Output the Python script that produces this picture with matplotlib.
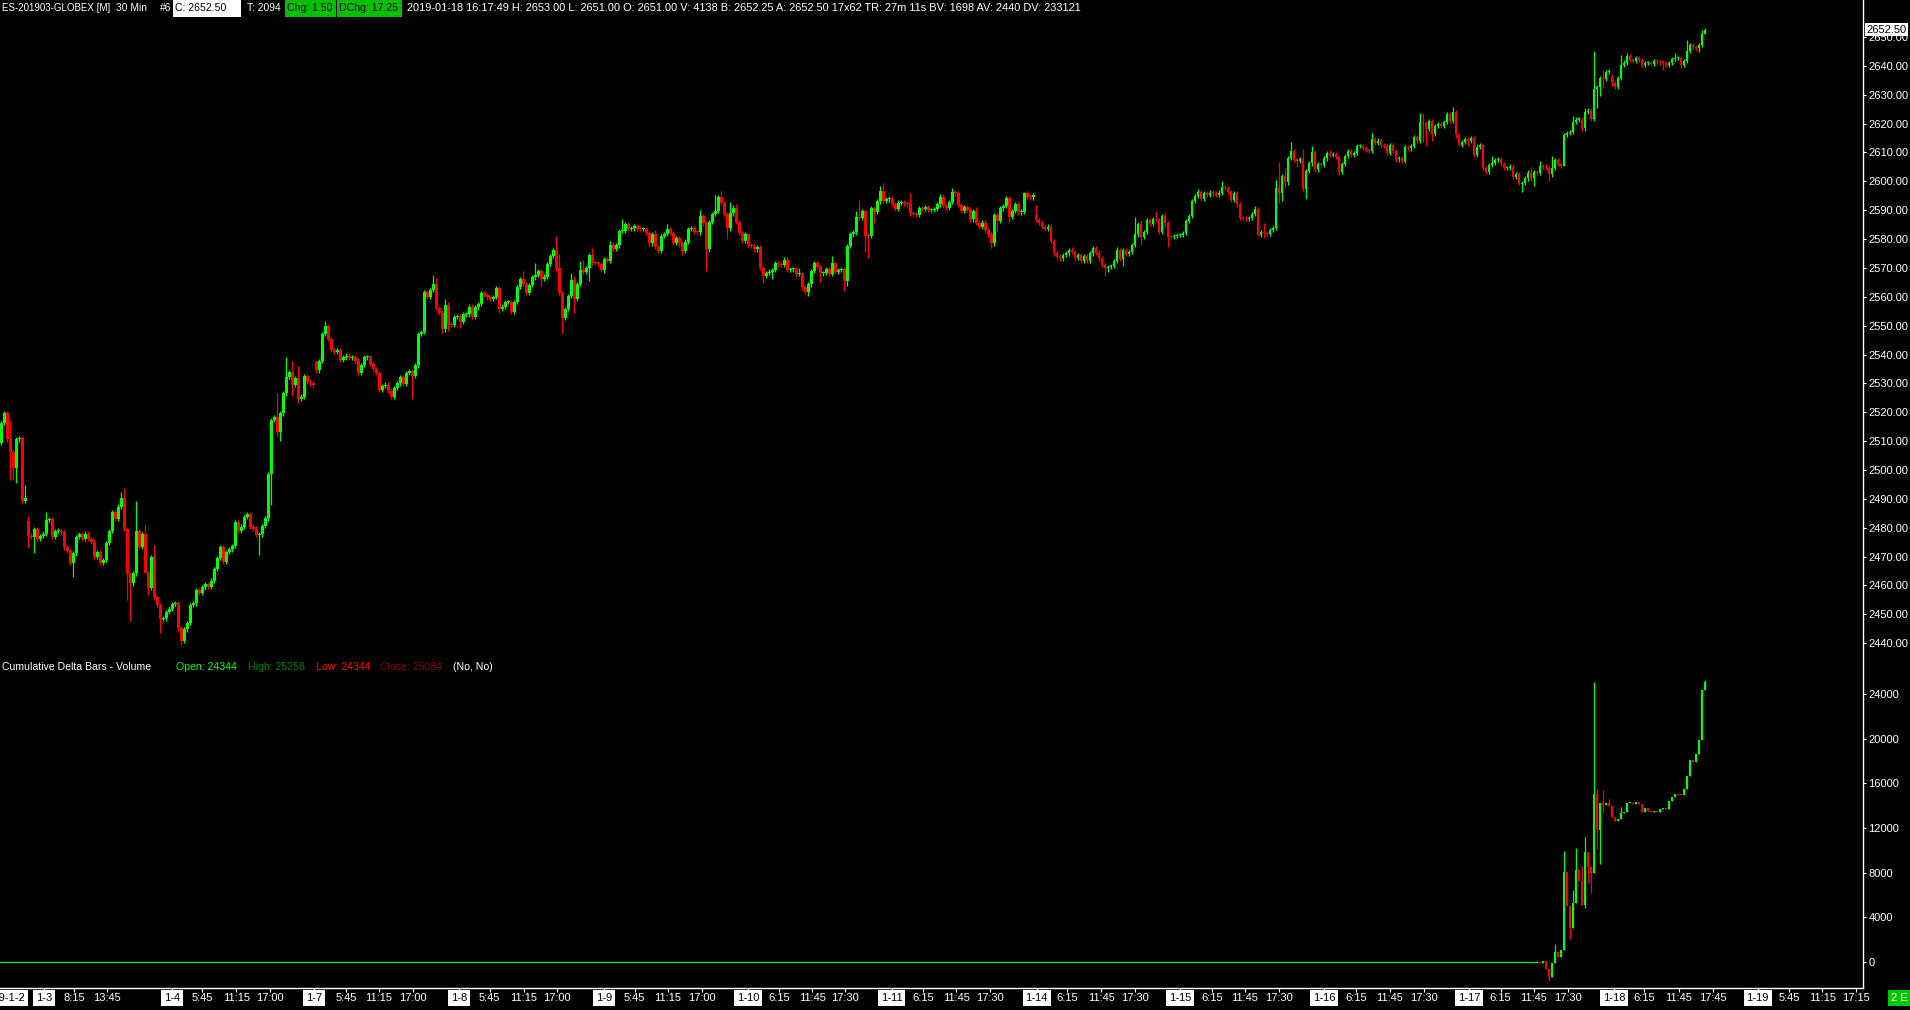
import numpy as np
import matplotlib
matplotlib.use("Agg")
import matplotlib.pyplot as plt
from matplotlib.lines import Line2D
from matplotlib.patches import Rectangle

plt.rcParams['font.family'] = ['Liberation Sans', 'DejaVu Sans']

# ES 30 min closes, one per bar
closes = [
    2516.2, 2519.6, 2510.6, 2506.3, 2500.8, 2510.6, 2511.0, 2489.3, 2490.2, 2477.3,
    2476.9, 2479.4, 2476.0, 2477.1, 2478.0, 2482.7, 2483.0, 2476.9, 2478.9, 2479.0,
    2478.5, 2473.2, 2472.0, 2467.7, 2471.1, 2476.7, 2477.8, 2476.0, 2478.0, 2476.0,
    2475.2, 2470.0, 2471.5, 2467.7, 2468.8, 2474.6, 2478.9, 2485.3, 2483.1, 2487.3,
    2490.2, 2479.6, 2463.9, 2460.7, 2464.2, 2478.9, 2473.4, 2477.7, 2464.2, 2459.2,
    2469.7, 2456.1, 2453.1, 2448.3, 2448.6, 2450.8, 2452.0, 2453.5, 2453.8, 2445.1,
    2440.9, 2444.8, 2446.9, 2453.2, 2453.8, 2458.4, 2457.5, 2459.3, 2460.5, 2459.6,
    2461.7, 2465.6, 2469.4, 2473.2, 2468.2, 2471.7, 2472.5, 2473.7, 2482.1, 2479.0,
    2480.4, 2483.8, 2484.6, 2480.4, 2479.7, 2477.5, 2477.7, 2480.7, 2483.2, 2498.6,
    2517.3, 2518.2, 2513.3, 2519.6, 2526.5, 2532.1, 2533.9, 2529.6, 2531.7, 2524.7,
    2525.4, 2532.6, 2530.6, 2530.0, 2529.3, 2534.5, 2537.8, 2547.1, 2549.9, 2545.3,
    2541.6, 2541.0, 2541.6, 2538.1, 2539.0, 2539.6, 2538.7, 2539.0, 2537.9, 2533.5,
    2536.4, 2539.0, 2539.2, 2536.6, 2535.0, 2533.5, 2527.7, 2529.2, 2529.6, 2527.5,
    2525.4, 2528.3, 2530.0, 2532.1, 2529.8, 2533.7, 2534.4, 2532.7, 2536.2, 2547.1,
    2547.9, 2561.5, 2560.0, 2562.3, 2564.4, 2556.0, 2554.5, 2548.7, 2557.0, 2550.4,
    2550.2, 2552.9, 2553.4, 2551.4, 2553.9, 2553.9, 2556.6, 2553.1, 2556.3, 2557.5,
    2561.2, 2560.6, 2559.8, 2559.4, 2560.0, 2562.9, 2555.8, 2556.6, 2558.1, 2558.3,
    2554.8, 2558.3, 2563.3, 2566.1, 2564.4, 2561.2, 2564.1, 2566.7, 2567.5, 2568.9,
    2566.3, 2567.0, 2571.3, 2574.1, 2576.2, 2569.8, 2561.4, 2552.5, 2555.8, 2560.3,
    2565.8, 2559.4, 2564.4, 2569.3, 2568.7, 2569.8, 2574.3, 2571.8, 2571.6, 2571.3,
    2569.3, 2573.0, 2572.4, 2578.1, 2576.6, 2577.8, 2582.8, 2582.8, 2585.2, 2583.6,
    2583.7, 2584.6, 2583.6, 2583.4, 2583.5, 2582.2, 2578.5, 2581.6, 2577.3, 2576.0,
    2581.0, 2581.7, 2583.4, 2582.0, 2578.7, 2580.2, 2578.5, 2576.0, 2579.1, 2583.4,
    2583.8, 2582.5, 2582.3, 2588.0, 2585.4, 2576.4, 2585.9, 2588.7, 2589.7, 2594.4,
    2592.4, 2588.7, 2583.7, 2588.9, 2590.9, 2585.9, 2582.0, 2579.4, 2581.6, 2577.9,
    2577.6, 2576.4, 2577.1, 2569.9, 2567.3, 2568.3, 2568.7, 2569.3, 2571.6, 2571.2,
    2571.0, 2572.9, 2569.3, 2569.5, 2569.6, 2567.8, 2567.8, 2563.3, 2561.8, 2564.3,
    2568.9, 2571.6, 2570.4, 2568.1, 2568.3, 2569.5, 2567.8, 2571.6, 2568.7, 2569.3,
    2569.5, 2565.6, 2577.6, 2581.6, 2582.3, 2587.7, 2587.4, 2589.7, 2581.2, 2581.0,
    2590.6, 2589.5, 2593.0, 2596.6, 2593.2, 2593.7, 2594.0, 2592.0, 2590.3, 2592.6,
    2592.6, 2592.1, 2592.0, 2588.9, 2588.7, 2588.3, 2590.6, 2590.3, 2591.2, 2590.1,
    2590.1, 2590.3, 2592.0, 2594.7, 2591.4, 2590.9, 2592.9, 2596.4, 2595.8, 2591.8,
    2589.8, 2591.0, 2590.1, 2586.8, 2589.7, 2585.7, 2584.3, 2585.7, 2583.1, 2581.6,
    2578.5, 2588.2, 2586.4, 2590.6, 2591.4, 2594.1, 2587.7, 2589.7, 2592.0, 2589.2,
    2589.5, 2595.8, 2594.7, 2594.4, 2595.1, 2586.6, 2585.7, 2584.1, 2583.4, 2584.3,
    2579.4, 2575.0, 2573.9, 2573.3, 2574.5, 2575.0, 2576.2, 2575.6, 2573.5, 2574.3,
    2572.5, 2574.1, 2572.5, 2575.0, 2576.8, 2575.3, 2573.3, 2570.9, 2569.8, 2570.4,
    2570.7, 2572.5, 2576.2, 2573.0, 2576.2, 2574.7, 2575.6, 2577.9, 2581.6, 2585.2,
    2580.6, 2582.5, 2586.6, 2585.2, 2586.9, 2586.6, 2582.5, 2588.0, 2585.4, 2580.8,
    2580.6, 2581.0, 2581.4, 2581.4, 2582.2, 2586.2, 2588.0, 2593.2, 2594.9, 2596.2,
    2594.0, 2595.8, 2595.4, 2596.1, 2595.8, 2595.3, 2596.1, 2597.9, 2597.6, 2596.4,
    2593.5, 2595.8, 2592.0, 2587.4, 2587.2, 2586.9, 2587.4, 2588.7, 2590.4, 2581.4,
    2582.3, 2582.0, 2581.8, 2583.1, 2583.9, 2597.6, 2595.8, 2601.8, 2599.6, 2608.0,
    2610.5, 2607.4, 2607.2, 2607.6, 2597.3, 2603.6, 2606.2, 2610.0, 2604.1, 2606.0,
    2605.6, 2607.9, 2609.7, 2609.1, 2609.4, 2608.5, 2603.3, 2606.0, 2608.8, 2610.5,
    2609.1, 2609.9, 2612.2, 2612.3, 2611.6, 2610.8, 2610.6, 2614.5, 2613.4, 2614.1,
    2612.6, 2612.3, 2609.9, 2612.6, 2610.6, 2607.6, 2607.9, 2607.1, 2611.8, 2611.4,
    2612.2, 2615.4, 2614.1, 2620.4, 2620.1, 2618.1, 2620.9, 2616.3, 2619.1, 2619.8,
    2619.1, 2620.6, 2623.3, 2621.0, 2624.0, 2615.9, 2612.7, 2613.7, 2614.5, 2614.1,
    2614.9, 2609.1, 2612.0, 2612.6, 2604.7, 2603.3, 2605.6, 2606.4, 2607.4, 2607.6,
    2606.0, 2604.5, 2604.7, 2605.1, 2601.4, 2602.5, 2599.0, 2599.5, 2601.0, 2603.0,
    2601.0, 2603.3, 2603.0, 2605.3, 2605.1, 2604.5, 2602.4, 2604.5, 2607.4, 2606.0,
    2605.4, 2616.0, 2616.8, 2617.1, 2620.5, 2621.4, 2621.4, 2618.3, 2624.0, 2624.5,
    2621.6, 2631.8, 2632.5, 2635.7, 2635.4, 2637.9, 2638.0, 2633.9, 2632.8, 2635.7,
    2640.3, 2641.1, 2643.4, 2642.0, 2641.8, 2642.6, 2642.0, 2640.3, 2640.9, 2641.0,
    2640.6, 2641.7, 2641.4, 2641.2, 2640.9, 2640.3, 2640.9, 2642.4, 2642.6, 2642.7,
    2640.3, 2641.7, 2645.1, 2647.2, 2646.4, 2646.0, 2647.2, 2651.0, 2652.5,
]

# opens that don't equal the prior close (session gaps)
open_gaps = {0: 2509.5, 9: 2482.3, 105: 2537.5, 345: 2588.3, 537: 2636.5, 568: 2651.0}

# long wicks
wick_highs = {
    3: 2517.3, 8: 2494.8, 9: 2484.1, 15: 2485.3, 40: 2492.5, 41: 2493.6, 45: 2489.3,
    48: 2481.0, 51: 2474.0, 92: 2526.6, 95: 2539.0, 97: 2537.7, 99: 2536.0, 108: 2551.6,
    144: 2567.4, 145: 2566.4, 148: 2559.4, 149: 2558.1, 174: 2568.9, 178: 2571.6,
    185: 2581.0, 186: 2574.8, 190: 2568.1, 191: 2567.2, 193: 2572.4, 194: 2572.7,
    197: 2576.8, 203: 2579.4, 207: 2586.8, 218: 2583.1, 222: 2585.1, 233: 2590.1,
    238: 2595.2, 240: 2596.6, 243: 2592.8, 245: 2592.0, 249: 2581.7, 266: 2570.1,
    277: 2574.1, 285: 2589.7, 286: 2593.5, 288: 2590.1, 293: 2598.4, 294: 2599.3,
    303: 2595.8, 317: 2597.6, 325: 2591.2, 341: 2596.4, 345: 2591.8, 357: 2577.1,
    364: 2577.7, 372: 2577.3, 378: 2587.5, 380: 2586.6, 385: 2589.7, 388: 2589.2,
    399: 2597.2, 407: 2600.1, 418: 2591.4, 421: 2585.6, 425: 2600.4, 426: 2606.8,
    428: 2604.5, 430: 2613.5, 434: 2611.1, 437: 2612.2, 443: 2610.8, 457: 2616.6,
    460: 2615.1, 471: 2616.0, 473: 2623.5, 474: 2623.5, 484: 2625.6, 497: 2608.8,
    510: 2605.1, 513: 2607.0, 517: 2608.8, 524: 2622.6, 528: 2625.3, 531: 2645.1,
    534: 2638.5, 540: 2643.7, 542: 2644.3, 558: 2644.3, 562: 2648.9, 567: 2652.4,
    568: 2653.0,
}
wick_lows = {
    3: 2496.5, 4: 2496.5, 5: 2495.6, 9: 2473.1, 11: 2471.1, 24: 2463.0, 42: 2455.0,
    43: 2447.8, 48: 2466.0, 49: 2456.7, 53: 2443.6, 60: 2439.4, 86: 2470.6, 90: 2487.9,
    92: 2511.3, 93: 2510.2, 97: 2525.6, 99: 2523.3, 137: 2524.6, 147: 2547.3,
    149: 2548.3, 153: 2549.3, 166: 2554.3, 180: 2563.7, 187: 2547.5, 188: 2551.9,
    191: 2554.5, 196: 2565.5, 201: 2568.3, 226: 2577.3, 227: 2574.5, 235: 2569.0,
    242: 2580.0, 254: 2564.9, 257: 2566.0, 267: 2562.3, 269: 2560.4, 273: 2565.2,
    281: 2562.1, 282: 2563.8, 288: 2575.6, 289: 2573.5, 291: 2585.4, 330: 2577.0,
    332: 2582.5, 336: 2585.4, 367: 2570.4, 368: 2567.3, 369: 2568.5, 374: 2570.8,
    380: 2577.9, 389: 2577.1, 419: 2581.0, 421: 2580.2, 426: 2592.6, 427: 2593.3,
    428: 2597.8, 432: 2605.1, 435: 2593.9, 446: 2602.2, 474: 2613.7, 475: 2612.2,
    477: 2614.1, 486: 2612.3, 489: 2612.2, 494: 2603.9, 502: 2603.9, 506: 2598.7,
    507: 2596.4, 511: 2598.5, 516: 2600.2, 521: 2610.8, 527: 2617.5, 532: 2625.3,
    533: 2629.5, 534: 2632.2, 554: 2638.5, 560: 2639.1, 566: 2644.7, 568: 2651.0,
}

# cumulative delta: flat at 0 until bar 513, then these closes
delta_start = 513
delta_closes = [
    -90, 60, -690, -1400, -150, 843, 450, 1050, 8023, 5026,
    3052, 5241, 8230, 7270, 5089, 9818, 8472, 7933, 15024, 11820,
    14216, 14091, 14216, 14001, 13014, 12655, 12780, 13319, 13463, 14216,
    14270, 14154, 14306, 14126, 13463, 13767, 13552, 13463, 13552, 13463,
    13678, 13795, 13678, 14396, 14810, 15024, 14961, 14940, 15473, 16694,
    18076, 17896, 18614, 19870, 24344, 25084,
]
delta_highs = {518: 1590, 521: 9935, 524: 6435, 525: 10204, 527: 8589, 528: 11192,
               531: 25103, 532: 15473, 534: 15383, 536: 14602, 540: 13884, 568: 25258}
delta_lows = {516: -1705, 523: 2064, 528: 4820, 529: 7036, 530: 6139, 532: 10142,
              533: 8796, 534: 13319}

price_ticks = list(range(2440, 2651, 10))
delta_ticks = list(range(0, 24001, 4000))

# bottom axis labels: (bar position, text, is date)
x_labels = [
    (14.2, "1-3", True), (24.3, "8:15", False), (35.3, "13:45", False),
    (56.8, "1-4", True), (67.0, "5:45", False), (78.3, "11:15", False), (89.7, "17:00", False),
    (104.3, "1-7", True), (114.9, "5:45", False), (125.9, "11:15", False), (137.2, "17:00", False),
    (152.7, "1-8", True), (162.8, "5:45", False), (174.2, "11:15", False), (185.1, "17:00", False),
    (201.0, "1-9", True), (211.1, "5:45", False), (222.1, "11:15", False), (233.5, "17:00", False),
    (248.9, "1-10", True), (259.4, "6:15", False), (270.4, "11:45", False), (281.4, "17:30", False),
    (296.8, "1-11", True), (307.4, "6:15", False), (318.3, "11:45", False), (329.7, "17:30", False),
    (345.1, "1-14", True), (355.3, "6:15", False), (366.6, "11:45", False), (378.0, "17:30", False),
    (393.0, "1-15", True), (403.6, "6:15", False), (414.5, "11:45", False), (425.9, "17:30", False),
    (440.9, "1-16", True), (451.5, "6:15", False), (462.9, "11:45", False), (474.2, "17:30", False),
    (489.3, "1-17", True), (499.8, "6:15", False), (510.8, "11:45", False), (522.2, "17:30", False),
    (537.6, "1-18", True), (547.7, "6:15", False), (559.1, "11:45", False), (570.5, "17:45", False),
    (585.5, "1-19", True), (596.0, "5:45", False), (607.0, "11:15", False), (618.4, "17:15", False),
]

UP = "#00ff00"
DOWN = "#ff0000"
W, H = 1910, 1010
FS = 8.0
HFS = 7.9


def build_ohlc(c, gaps, his, los, pad):
    c = np.array(c, dtype=float)
    o = np.concatenate([[c[0]], c[:-1]])
    for k, v in gaps.items():
        o[k] = v
    h = np.maximum(o, c) + pad
    l = np.minimum(o, c) - pad
    for k, v in his.items():
        h[k] = max(v, o[k], c[k])
    for k, v in los.items():
        l[k] = min(v, o[k], c[k])
    return o, h, l, c


def draw_candles(ax, x, o, h, l, c, min_h):
    colors = np.where(c >= o, UP, DOWN)
    ax.vlines(x, l, h, colors=colors, linewidth=0.9)
    ax.bar(x, np.maximum(np.abs(c - o), min_h), width=0.84,
           bottom=np.minimum(o, c), color=colors, linewidth=0)


def px(x, y):
    return x / W, 1 - y / H


def box(x0, x1, y0, y1, color):
    fig.add_artist(Rectangle((x0 / W, 1 - y1 / H), (x1 - x0) / W, (y1 - y0) / H,
                             transform=fig.transFigure, facecolor=color, edgecolor="none"))


fig = plt.figure(figsize=(19.1, 10.1), dpi=100, facecolor="black")

right = 1863
ax = fig.add_axes([0, 1 - 656 / H, right / W, (656 - 18) / H], facecolor="black")
ax2 = fig.add_axes([0, 1 - 988 / H, right / W, (988 - 662) / H], facecolor="black")

xlim = (-0.43, 620.6)

# price candles
o, h, l, c = build_ohlc(closes, open_gaps, wick_highs, wick_lows, 0.75)
xs = np.arange(len(c))
draw_candles(ax, xs, o, h, l, c, 0.35)
ax.set_xlim(*xlim)
ax.set_ylim(2435.57, 2656.56)

# delta candles
d_all = [0] * delta_start + delta_closes
do, dh, dl, dc = build_ohlc(d_all, {}, delta_highs, delta_lows, 0)
ax2.plot(np.arange(-1, delta_start), [0] * (delta_start + 1), color=UP, linewidth=0.9)
dx = np.arange(delta_start, len(dc))
draw_candles(ax2, dx, do[delta_start:], dh[delta_start:], dl[delta_start:], dc[delta_start:], 90)
ax2.set_xlim(*xlim)
ax2.set_ylim(-2361, 26899)

for a in (ax, ax2):
    for s in a.spines.values():
        s.set_visible(False)
    a.yaxis.tick_right()
    a.tick_params(axis="y", colors="white", length=2.5, width=0.8, pad=1.5, labelsize=FS)

ax.set_yticks(price_ticks)
ax.set_yticklabels([f"{t:.2f}" for t in price_ticks])
ax.set_xticks([])
ax2.set_yticks(delta_ticks)
ax2.set_yticklabels([str(t) for t in delta_ticks])

ax2.spines["bottom"].set_visible(True)
ax2.spines["bottom"].set_color("white")
ax2.spines["bottom"].set_linewidth(1.0)
ax2.set_xticks([p for p, _, _ in x_labels])
ax2.set_xticklabels([])
ax2.tick_params(axis="x", colors="white", length=3, width=0.8, direction="out")

# vertical price-scale line
fig.add_artist(Line2D([right / W, right / W], [1 - 988 / H, 1.0],
                      color="white", linewidth=1.0, transform=fig.transFigure))

# last price tag
ax.text(1.0018, 2652.5, "2652.50", transform=ax.get_yaxis_transform(), color="black",
        fontsize=FS, va="center", ha="left", clip_on=False,
        bbox=dict(boxstyle="square,pad=0.12", fc="white", ec="none"))

# bottom time labels
for pos, lab, is_date in x_labels:
    if is_date:
        ax2.text(pos, -0.031, lab, transform=ax2.get_xaxis_transform(), color="black",
                 fontsize=FS, ha="center", va="center", clip_on=False,
                 bbox=dict(boxstyle="square,pad=0.25", fc="white", ec="none"))
    else:
        ax2.text(pos, -0.031, lab, transform=ax2.get_xaxis_transform(), color="white",
                 fontsize=FS, ha="center", va="center", clip_on=False)
fig.text(*px(25, 998), "2019-1-2", color="black", fontsize=FS, ha="right", va="center",
         bbox=dict(boxstyle="square,pad=0.25", fc="white", ec="none"))
fig.text(*px(1891, 998), "2 E", color="white", fontsize=FS, ha="left", va="center",
         bbox=dict(boxstyle="square,pad=0.3", fc="#00c800", ec="none"))

# header line of the price chart
hy = 8
box(173, 241, 0, 17, "white")
box(285, 336, 0, 17, "#00c000")
box(337, 402, 0, 17, "#00c000")
fig.text(*px(2, hy), "ES-201903-GLOBEX [M]", color="white", fontsize=7.0, va="center")
fig.text(*px(116, hy), "30 Min", color="white", fontsize=7.4, va="center")
fig.text(*px(160, hy), "#6", color="white", fontsize=7.4, va="center")
fig.text(*px(175, hy), "C: 2652.50", color="black", fontsize=7.6, va="center")
fig.text(*px(247, hy), "T: 2094", color="white", fontsize=7.4, va="center")
fig.text(*px(287, hy), "Chg: 1.50", color="black", fontsize=7.6, va="center")
fig.text(*px(339, hy), "DChg: 17.25", color="black", fontsize=7.6, va="center")
fig.text(*px(407, hy), "2019-01-18 16:17:49 H: 2653.00 L: 2651.00 O: 2651.00 V: 4138 "
         "B: 2652.25 A: 2652.50 17x62 TR: 27m 11s BV: 1698 AV: 2440 DV: 233121",
         color="white", fontsize=HFS, va="center")

# header line of the delta panel
dy = 667
fig.text(*px(2, dy), "Cumulative Delta Bars - Volume", color="white", fontsize=7.6, va="center")
fig.text(*px(176, dy), "Open: 24344", color="#00ff00", fontsize=7.6, va="center")
fig.text(*px(248, dy), "High: 25258", color="#008000", fontsize=7.6, va="center")
fig.text(*px(316, dy), "Low: 24344", color="#ff0000", fontsize=7.6, va="center")
fig.text(*px(380, dy), "Close: 25084", color="#8b0000", fontsize=7.6, va="center")
fig.text(*px(453, dy), "(No, No)", color="white", fontsize=7.6, va="center")

fig.savefig("out.png", dpi=100, facecolor="black")
